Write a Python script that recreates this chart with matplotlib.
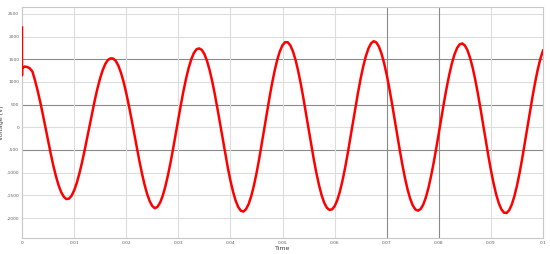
import numpy as np
import matplotlib
matplotlib.use("Agg")
import matplotlib.pyplot as plt

# Start-up transient (spike at t = 0)
spike_time = [0.0, 0.0]
spike_volt = [2200, 1150]

# Voltage read every 0.5 ms from t = 0 to t = 0.1 s (one row = 5 ms)
volt = [1300, 1340, 1330, 1300, 1230, 1033, 810, 558, 284, -3,
        -292, -573, -837, -1071, -1270, -1425, -1527, -1581, -1574, -1510,
        -1394, -1230, -1024, -784, -517, -235, 55, 341, 614, 864,
        1084, 1264, 1400, 1486, 1520, 1516, 1463, 1358, 1202, 1001,
        760, 487, 193, -115, -423, -723, -1004, -1254, -1463, -1626,
        -1734, -1784, -1753, -1661, -1512, -1310, -1063, -782, -473, -148,
        180, 502, 805, 1079, 1314, 1504, 1641, 1721, 1740, 1708,
        1617, 1468, 1266, 1019, 734, 421, 91, -245, -575, -888,
        -1172, -1416, -1615, -1757, -1839, -1857, -1805, -1691, -1517, -1290,
        -1019, -711, -378, -31, 317, 655, 970, 1253, 1492, 1680,
        1810, 1877, 1876, 1807, 1675, 1487, 1247, 964, 650, 314,
        -31, -374, -703, -1005, -1271, -1494, -1662, -1772, -1820, -1810,
        -1741, -1609, -1421, -1183, -902, -588, -252, 94, 439, 770,
        1076, 1346, 1570, 1741, 1852, 1898, 1872, 1780, 1626, 1416,
        1159, 861, 535, 192, -157, -499, -822, -1115, -1368, -1573,
        -1722, -1811, -1837, -1803, -1707, -1550, -1341, -1083, -789, -466,
        -127, 217, 553, 871, 1158, 1406, 1605, 1747, 1829, 1849,
        1805, 1699, 1532, 1312, 1046, 742, 412, 66, -283, -623,
        -942, -1229, -1475, -1669, -1806, -1880, -1889, -1828, -1705, -1522,
        -1286, -1007, -692, -353, -3, 347, 685, 999, 1278, 1513,
        1693]
time_step = 0.0005
time = list(np.arange(len(volt)) * time_step)

x_ticks = [0, 0.01, 0.02, 0.03, 0.04, 0.05, 0.06, 0.07, 0.08, 0.09, 0.1]
x_tick_labels = ["0", "0.01", "0.02", "0.03", "0.04", "0.05", "0.06", "0.07", "0.08", "0.09", "0.1"]
y_ticks = [-2000, -1500, -1000, -500, 0, 500, 1000, 1500, 2000, 2500]
y_tick_labels = ["-2000", "-1500", "-1000", "-500", "0", "500", "1000", "1500", "2000", "2500"]
dark_y = [1500, 500, -500]
dark_x = [0.07, 0.08]

fig = plt.figure(figsize=(5.5, 2.54), dpi=100)
ax = fig.add_axes([0.040, 0.063, 0.9473, 0.909])

for y in y_ticks:
    c = "#8a8a8a" if y in dark_y else "#dddddd"
    ax.axhline(y, color=c, lw=0.8, zorder=0)
for x in x_ticks:
    c = "#8a8a8a" if x in dark_x else "#dddddd"
    ax.axvline(x, color=c, lw=0.8, zorder=0)

ax.plot(spike_time + time, spike_volt + volt, color="#ff0000", lw=1.8,
        solid_joinstyle="round", zorder=3)

ax.set_xlim(0, 0.1)
ax.set_ylim(-2440, 2650)
ax.set_xticks(x_ticks)
ax.set_xticklabels(x_tick_labels)
ax.set_yticks(y_ticks)
ax.set_yticklabels(y_tick_labels)
ax.tick_params(axis="both", labelsize=3.2, colors="#606060", length=0, pad=2)
for s in ax.spines.values():
    s.set_color("#c8c8c8")
    s.set_linewidth(0.8)
ax.set_xlabel("Time", fontsize=4.5, color="#404040", labelpad=1)
ax.set_ylabel("Voltage (V)", fontsize=4.5, color="#404040", labelpad=2)

fig.savefig("out.png", dpi=100)
